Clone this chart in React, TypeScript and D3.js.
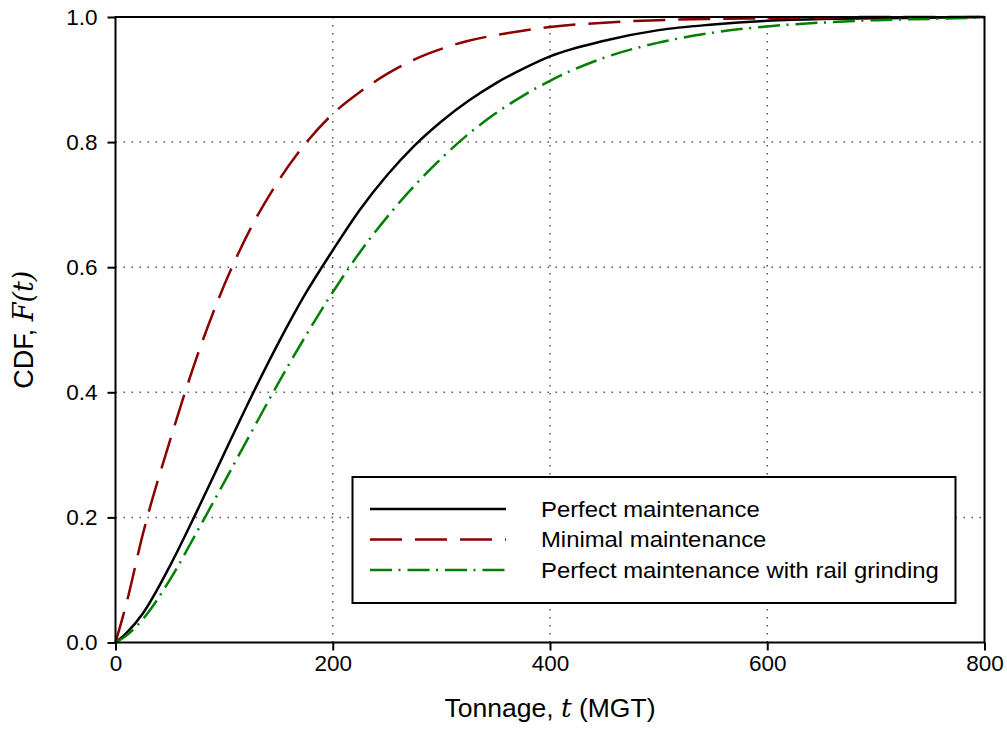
import React, { useEffect, useRef } from "react";
import * as d3 from "d3";

// tonnage (MGT) sample points
const tonnage = [0, 10, 25, 50, 75, 100, 125, 150, 175, 200, 225, 250, 275, 300, 325, 350, 375, 400, 450, 500, 550, 600, 650, 700, 750, 800];

const perfect = [0, 0.015, 0.046, 0.122, 0.21, 0.302, 0.393, 0.479, 0.558, 0.627, 0.692, 0.747, 0.794, 0.833, 0.866, 0.894, 0.917, 0.937, 0.962, 0.979, 0.988, 0.994, 0.997, 0.998, 0.999, 1.0];
const minimal = [0, 0.062, 0.172, 0.322, 0.457, 0.571, 0.664, 0.738, 0.798, 0.845, 0.88, 0.909, 0.932, 0.949, 0.962, 0.971, 0.978, 0.984, 0.991, 0.995, 0.997, 0.998, 0.999, 1.0, 1.0, 1.0];
const grinding = [0, 0.011, 0.037, 0.1, 0.177, 0.256, 0.336, 0.415, 0.49, 0.56, 0.624, 0.68, 0.73, 0.774, 0.813, 0.846, 0.874, 0.898, 0.935, 0.959, 0.975, 0.985, 0.991, 0.995, 0.997, 0.999];

const xTicks = [0, 200, 400, 600, 800];
const yTicks = [0, 0.2, 0.4, 0.6, 0.8, 1.0];

const seriesNames = ["Perfect maintenance", "Minimal maintenance", "Perfect maintenance with rail grinding"];

export default function App() {
  const ref = useRef<SVGSVGElement>(null);

  useEffect(() => {
    const svg = d3.select(ref.current);
    svg.selectAll("*").remove();

    const width = 1007,
      height = 749;
    const plot = { left: 115.5, right: 984.5, top: 17, bottom: 642.5 };
    const font = "'Liberation Sans', Arial, sans-serif";
    const mathFont = "'DejaVu Serif', 'Liberation Serif', serif";

    svg.attr("width", width).attr("height", height);

    const x = d3.scaleLinear().domain([0, 800]).range([plot.left, plot.right]);
    const y = d3.scaleLinear().domain([0, 1]).range([plot.bottom, plot.top]);

    // grid
    const grid = svg.append("g").attr("stroke", "#555").attr("stroke-width", 1.5).attr("stroke-dasharray", "1.5,6.5");
    grid
      .selectAll(".gx")
      .data(xTicks.slice(1, -1))
      .enter()
      .append("line")
      .attr("x1", (d) => x(d))
      .attr("x2", (d) => x(d))
      .attr("y1", plot.top)
      .attr("y2", plot.bottom);
    grid
      .selectAll(".gy")
      .data(yTicks.slice(1, -1))
      .enter()
      .append("line")
      .attr("x1", plot.left)
      .attr("x2", plot.right)
      .attr("y1", (d) => y(d))
      .attr("y2", (d) => y(d));

    // curves
    const series = [
      { name: seriesNames[0], values: perfect, color: "#000000", dash: null },
      { name: seriesNames[1], values: minimal, color: "#8b0000", dash: "32,13" },
      { name: seriesNames[2], values: grinding, color: "#008000", dash: "22,6.5,2,7" },
    ];

    const line = d3
      .line<number>()
      .x((_, i) => x(tonnage[i]))
      .y((d) => y(d))
      .curve(d3.curveMonotoneX);

    svg
      .append("g")
      .selectAll("path")
      .data(series)
      .enter()
      .append("path")
      .attr("d", (d) => line(d.values))
      .attr("fill", "none")
      .attr("stroke", (d) => d.color)
      .attr("stroke-width", 2.5)
      .attr("stroke-dasharray", (d) => d.dash);

    // frame
    svg
      .append("rect")
      .attr("x", plot.left)
      .attr("y", plot.top)
      .attr("width", plot.right - plot.left)
      .attr("height", plot.bottom - plot.top)
      .attr("fill", "none")
      .attr("stroke", "#000")
      .attr("stroke-width", 2);

    // axes
    const xAxis = svg
      .append("g")
      .attr("transform", `translate(0,${plot.bottom})`)
      .call(d3.axisBottom(x).tickValues(xTicks).tickSize(8).tickPadding(5).tickFormat(d3.format("d")));
    const yAxis = svg
      .append("g")
      .attr("transform", `translate(${plot.left},0)`)
      .call(d3.axisLeft(y).tickValues(yTicks).tickSize(8).tickPadding(10).tickFormat(d3.format(".1f")));

    [xAxis, yAxis].forEach((ax) => {
      ax.select(".domain").remove();
      ax.selectAll("line").attr("stroke", "#000").attr("stroke-width", 2);
      ax.selectAll("text").attr("font-family", font).attr("font-size", 22.5).attr("fill", "#000");
    });

    // axis titles
    const xt = svg
      .append("text")
      .attr("x", (plot.left + plot.right) / 2)
      .attr("y", 717)
      .attr("text-anchor", "middle")
      .attr("font-family", font)
      .attr("font-size", 26.5);
    xt.append("tspan").text("Tonnage, ");
    xt.append("tspan").attr("font-family", mathFont).attr("font-style", "italic").text("t");
    xt.append("tspan").text(" (MGT)");

    const yt = svg
      .append("text")
      .attr("transform", `translate(33,${(plot.top + plot.bottom) / 2}) rotate(-90)`)
      .attr("text-anchor", "middle")
      .attr("font-family", font)
      .attr("font-size", 27);
    yt.append("tspan").text("CDF, ");
    yt.append("tspan").attr("font-family", mathFont).attr("font-style", "italic").text("F(t)");

    // legend
    const legend = svg.append("g");
    legend
      .append("rect")
      .attr("x", 352.5)
      .attr("y", 477)
      .attr("width", 603)
      .attr("height", 126)
      .attr("fill", "#fff")
      .attr("stroke", "#000")
      .attr("stroke-width", 2);

    const rows = legend
      .selectAll(".row")
      .data(series)
      .enter()
      .append("g")
      .attr("transform", (_, i) => `translate(0,${509 + i * 30.5})`);
    rows
      .append("line")
      .attr("x1", 370)
      .attr("x2", 506)
      .attr("stroke", (d) => d.color)
      .attr("stroke-width", 2.5)
      .attr("stroke-dasharray", (d) => d.dash);
    rows
      .append("text")
      .attr("transform", "translate(541,7.5) scale(1.085,1)")
      .attr("font-family", font)
      .attr("font-size", 22)
      .text((d) => d.name);
  }, []);

  return <svg ref={ref} style={{ position: "absolute", left: 0, top: 0 }}></svg>;
}
